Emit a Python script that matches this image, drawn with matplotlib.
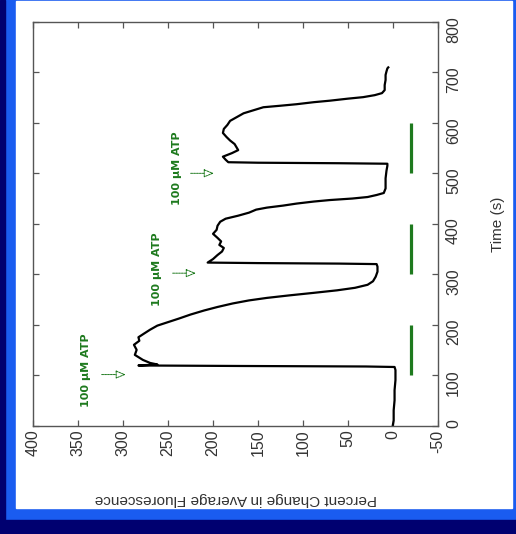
import matplotlib
matplotlib.use("Agg")
import matplotlib.pyplot as plt
from matplotlib.patches import Rectangle

plt.rcParams['font.family'] = ['Liberation Sans', 'DejaVu Sans']
plt.rcParams['axes.unicode_minus'] = False

# trace: time (s) and percent change
time_s = [0, 10, 30, 50, 70, 90, 110, 116,
          117, 118, 119,
          121, 124, 130, 140, 150, 160, 168, 175, 182, 190, 198, 205, 212, 220,
          228, 235, 242, 248, 253, 258, 263, 268, 273, 279, 286, 295, 305, 315, 320,
          321, 322, 323,
          330, 338, 345, 352, 358, 365, 372, 380, 388, 396, 404, 410, 416, 422,
          428, 432, 436, 440, 444, 447, 450, 453, 457, 461, 470, 490, 505, 515, 519,
          520, 521, 522,
          527, 533, 540, 546, 552, 558, 565, 572, 580, 588, 596, 604, 612, 619,
          625, 631, 634, 637, 641, 644, 648, 651, 655, 659, 665, 675, 685, 695,
          702, 708, 710]
pct = [0, -1, -1, -2, -2, -3, -3, -2,
       30, 170, 283,
       262, 270, 278, 287, 285, 288, 282, 283, 277, 270, 262, 250, 238, 225,
       210, 195, 178, 160, 140, 115, 88, 62, 42, 28, 22, 19, 17, 17, 18,
       60, 150, 206,
       200, 195, 190, 188, 193, 191, 195, 200, 196, 195, 192, 186, 172, 160,
       152, 140, 122, 107, 88, 70, 45, 28, 18, 10, 8, 8, 7, 6, 6,
       60, 150, 183,
       186, 189, 179, 172, 174, 176, 181, 185, 189, 188, 184, 181, 173, 166,
       155, 144, 125, 107, 88, 70, 50, 33, 20, 12, 9, 9, 8, 8,
       7, 6, 5]

# ATP applications
pulse_start = [100, 300, 500]
pulse_end = [200, 400, 600]
pulse_level = -20
atp_label = "100 \u00b5M ATP"
label_pct = [341, 262, 240]
label_time = [110, 310, 510]
arrow_time = [101, 302, 500]
arrow_from = [327, 248, 228]
arrow_to = [294, 216, 196]

green = '#1e7a1e'

fig = plt.figure(figsize=(5.16, 5.34), dpi=100, facecolor='white')

# blue slide frame
W, H = 516, 534
def box(x0, y0, x1, y1, c):
    fig.patches.append(Rectangle((x0 / W, 1 - y1 / H), (x1 - x0) / W, (y1 - y0) / H,
                                 transform=fig.transFigure, color=c, zorder=-5))
box(0, 0, 516, 534, '#1a5cf0')
box(16, 1, 512, 508, 'white')
box(0, 0, 5, 534, '#000070')
box(0, 520, 516, 534, '#000070')

ax = fig.add_axes([33.3 / W, 1 - 425.5 / H, 404.4 / W, 403.5 / H])
ax.set_zorder(2)
ax.set_facecolor('white')

ax.plot(pct, time_s, color='black', lw=1.6, solid_joinstyle='round')
for s, e in zip(pulse_start, pulse_end):
    ax.plot([pulse_level, pulse_level], [s, e], color=green, lw=2.3, solid_capstyle='butt')

for lp, lt, at, a0, a1 in zip(label_pct, label_time, arrow_time, arrow_from, arrow_to):
    ax.text(lp, lt, atp_label, rotation=90, ha='center', va='center',
            color=green, fontsize=8, fontweight='bold', family=['DejaVu Sans'])
    ax.annotate('', xy=(a1, at), xytext=(a0, at),
                arrowprops=dict(arrowstyle='-|>,head_length=0.6,head_width=0.25',
                                color=green, fc='white', lw=0.7, linestyle=(0, (2, 1))))

ax.set_xlim(400, -50)
ax.set_ylim(0, 800)
ax.set_xticks(range(400, -51, -50))
ax.set_yticks(range(0, 801, 100))
ax.yaxis.tick_right()
ax.tick_params(direction='in', top=True, bottom=True, left=True, right=True,
               length=4, width=0.9, color='#555555', labelcolor='#333333',
               labelsize=11.5)
ax.tick_params(axis='x', labelrotation=90, pad=3)
ax.tick_params(axis='y', labelrotation=90, pad=6)
for sp in ax.spines.values():
    sp.set_color('#555555')
    sp.set_linewidth(1.0)

fig.text(235.5 / W, 1 - 499 / H, 'Percent Change in Average Fluorescence',
         rotation=180, ha='center', va='center', fontsize=11, color='#333333')
fig.text(498 / W, 1 - 224 / H, 'Time (s)', rotation=90, ha='center', va='center',
         fontsize=11, color='#333333')

fig.savefig('out.png', dpi=100, facecolor=fig.get_facecolor())
